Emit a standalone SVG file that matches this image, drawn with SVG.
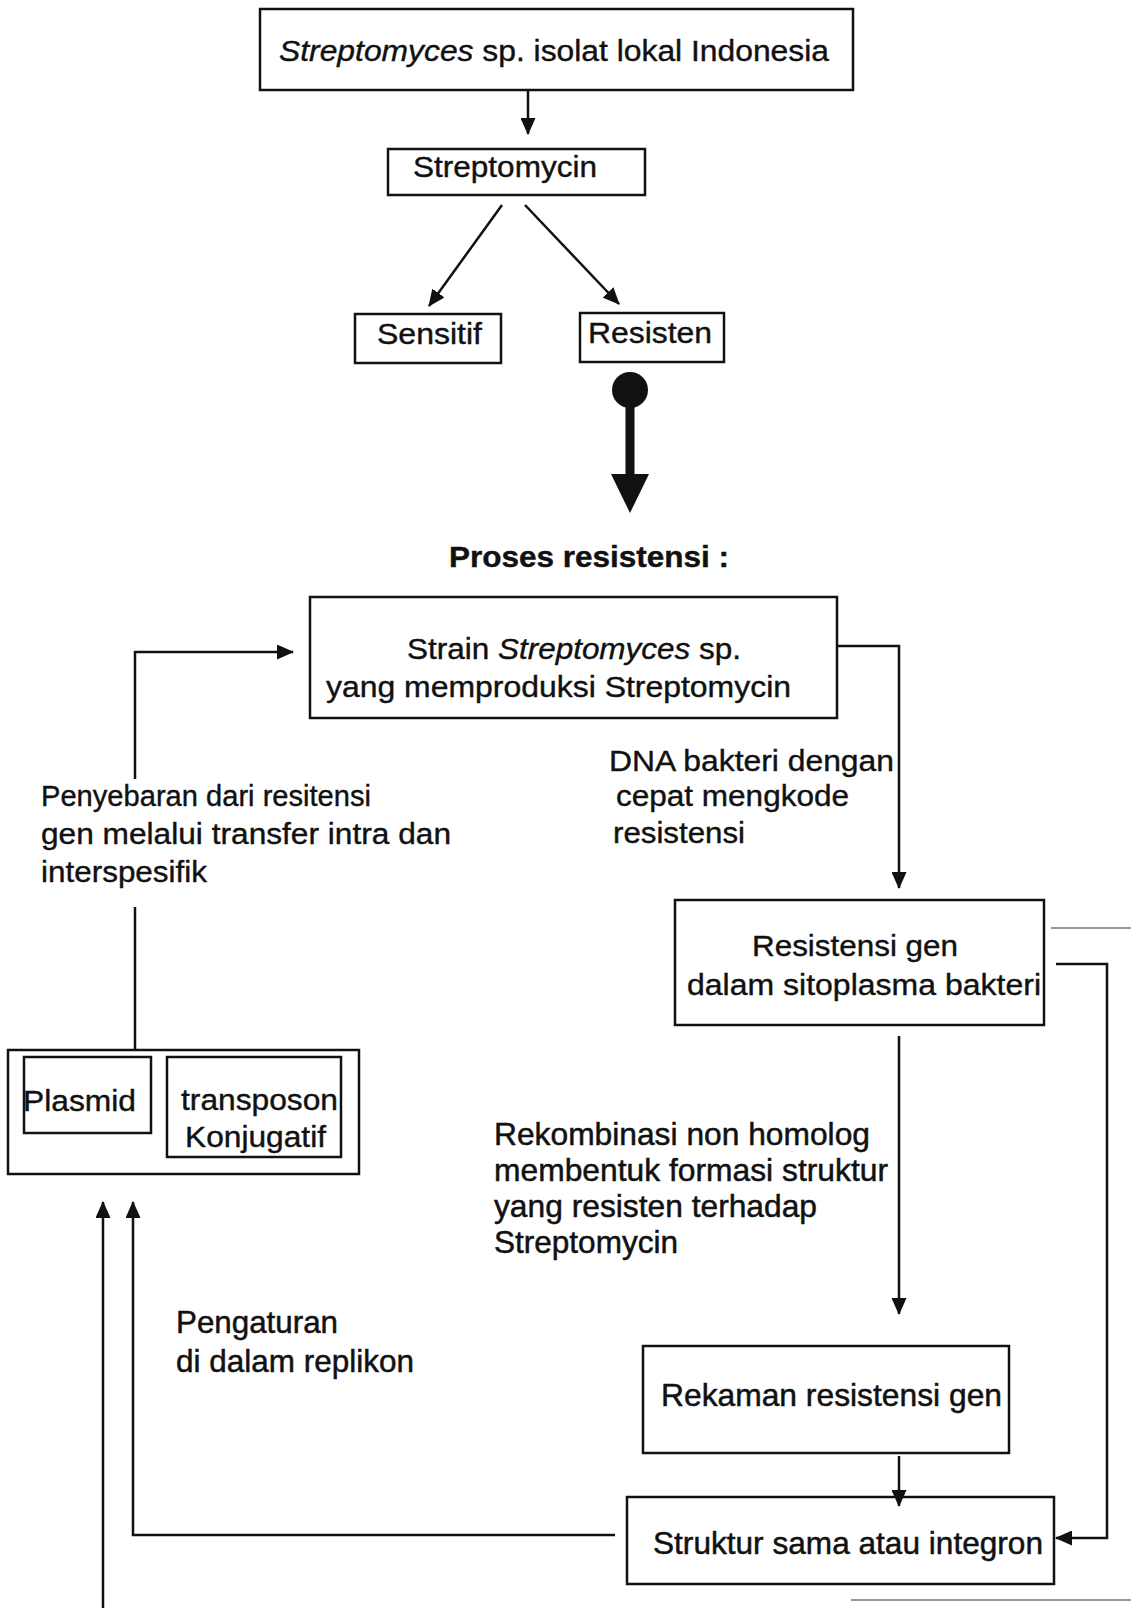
<svg xmlns="http://www.w3.org/2000/svg" width="1131" height="1608" viewBox="0 0 1131 1608">
<style>
  .box { fill: #fff; stroke: #111; stroke-width: 2.5; }
  .t { font-family: "Liberation Sans", Arial, sans-serif; font-size: 30px; fill: #111; stroke: #111; stroke-width: 0.4; }
  .n { font-family: "Liberation Sans", Arial, sans-serif; font-size: 32px; fill: #111; stroke: #111; stroke-width: 0.5; }
  .c { fill: none; stroke: #111; stroke-width: 2.5; }
  .faint { fill: none; stroke: #777; stroke-width: 1.5; }
</style>
<defs>
  <marker id="ah" markerUnits="userSpaceOnUse" markerWidth="17" markerHeight="15" refX="16" refY="7.5" orient="auto">
    <path d="M0,0 L17,7.5 L0,15 Z" fill="#111"/>
  </marker>
</defs>
<rect width="1131" height="1608" fill="#fff"/>

<g id="n-top">
  <rect class="box" x="260" y="9" width="593" height="81"/>
  <text class="t" x="279" y="61" textLength="550" lengthAdjust="spacingAndGlyphs"><tspan font-style="italic">Streptomyces</tspan> sp. isolat lokal Indonesia</text>
</g>
<g id="n-streptomycin">
  <rect class="box" x="388" y="149" width="257" height="46"/>
  <text class="t" x="413" y="177" textLength="184" lengthAdjust="spacingAndGlyphs">Streptomycin</text>
</g>
<g id="n-sensitif">
  <rect class="box" x="355" y="314" width="146" height="49"/>
  <text class="t" x="377" y="344" textLength="105" lengthAdjust="spacingAndGlyphs">Sensitif</text>
</g>
<g id="n-resisten">
  <rect class="box" x="580" y="313" width="144" height="49"/>
  <text class="t" x="588" y="343" textLength="124" lengthAdjust="spacingAndGlyphs">Resisten</text>
</g>
<g id="n-proses">
  <text class="t" x="449" y="567" font-weight="bold" font-size="28" textLength="280" lengthAdjust="spacingAndGlyphs">Proses resistensi :</text>
</g>
<g id="n-strain">
  <rect class="box" x="310" y="597" width="527" height="121"/>
  <text class="t" x="407" y="659" textLength="334" lengthAdjust="spacingAndGlyphs">Strain <tspan font-style="italic">Streptomyces</tspan> sp.</text>
  <text class="t" x="326" y="697" textLength="465" lengthAdjust="spacingAndGlyphs">yang memproduksi Streptomycin</text>
</g>
<g id="n-penyebaran">
  <text class="t" x="41" y="806" textLength="330" lengthAdjust="spacingAndGlyphs">Penyebaran dari resitensi</text>
  <text class="t" x="41" y="844" textLength="410" lengthAdjust="spacingAndGlyphs">gen melalui transfer intra dan</text>
  <text class="t" x="41" y="882" textLength="166" lengthAdjust="spacingAndGlyphs">interspesifik</text>
</g>
<g id="n-mobile">
  <rect class="box" x="8" y="1050" width="351" height="124"/>
  <rect class="box" x="24" y="1057" width="127" height="76"/>
  <text class="t" x="23" y="1111" textLength="113" lengthAdjust="spacingAndGlyphs">Plasmid</text>
  <rect class="box" x="167" y="1057" width="174" height="100"/>
  <text class="t" x="181" y="1110" textLength="157" lengthAdjust="spacingAndGlyphs">transposon</text>
  <text class="t" x="185" y="1147" textLength="141" lengthAdjust="spacingAndGlyphs">Konjugatif</text>
</g>
<g id="n-dna">
  <text class="t" x="609" y="771" textLength="285" lengthAdjust="spacingAndGlyphs">DNA bakteri dengan</text>
  <text class="t" x="616" y="806" textLength="233" lengthAdjust="spacingAndGlyphs">cepat mengkode</text>
  <text class="t" x="613" y="843" textLength="132" lengthAdjust="spacingAndGlyphs">resistensi</text>
</g>
<g id="n-resgen">
  <rect class="box" x="675" y="900" width="369" height="125"/>
  <text class="t" x="752" y="956" textLength="206" lengthAdjust="spacingAndGlyphs">Resistensi gen</text>
  <text class="t" x="687" y="995" textLength="354" lengthAdjust="spacingAndGlyphs">dalam sitoplasma bakteri</text>
</g>
<g id="n-rekombinasi">
  <text class="n" x="494" y="1145" textLength="376" lengthAdjust="spacingAndGlyphs">Rekombinasi non homolog</text>
  <text class="n" x="494" y="1181" textLength="394" lengthAdjust="spacingAndGlyphs">membentuk formasi struktur</text>
  <text class="n" x="494" y="1217" textLength="323" lengthAdjust="spacingAndGlyphs">yang resisten terhadap</text>
  <text class="n" x="494" y="1253" textLength="184" lengthAdjust="spacingAndGlyphs">Streptomycin</text>
</g>
<g id="n-pengaturan">
  <text class="n" x="176" y="1333" textLength="162" lengthAdjust="spacingAndGlyphs">Pengaturan</text>
  <text class="n" x="176" y="1372" textLength="238" lengthAdjust="spacingAndGlyphs">di dalam replikon</text>
</g>
<g id="n-rekaman">
  <rect class="box" x="643" y="1346" width="366" height="107"/>
  <text class="n" x="661" y="1406" textLength="341" lengthAdjust="spacingAndGlyphs">Rekaman resistensi gen</text>
</g>
<g id="n-struktur">
  <rect class="box" x="627" y="1497" width="427" height="87"/>
  <text class="n" x="653" y="1554" textLength="390" lengthAdjust="spacingAndGlyphs">Struktur sama atau integron</text>
</g>

<g id="connectors">
  <line class="c" x1="528" y1="90" x2="528" y2="134" marker-end="url(#ah)"/>
  <line class="c" x1="502" y1="205" x2="429" y2="306" marker-end="url(#ah)"/>
  <line class="c" x1="525" y1="205" x2="619" y2="304" marker-end="url(#ah)"/>
  <circle cx="630" cy="390" r="18" fill="#111"/>
  <line x1="630" y1="395" x2="630" y2="478" stroke="#111" stroke-width="9"/>
  <path d="M611,474 L649,474 L630,513 Z" fill="#111"/>
  <polyline class="c" points="837,646 899,646 899,888" marker-end="url(#ah)"/>
  <polyline class="c" points="135,779 135,652 293,652" marker-end="url(#ah)"/>
  <line class="c" x1="135" y1="907" x2="135" y2="1050"/>
  <line class="faint" x1="1051" y1="928" x2="1131" y2="928"/>
  <polyline class="c" points="1056,964 1107,964 1107,1538 1056,1538" marker-end="url(#ah)"/>
  <line class="c" x1="899" y1="1036" x2="899" y2="1314" marker-end="url(#ah)"/>
  <line class="c" x1="899" y1="1456" x2="899" y2="1506" marker-end="url(#ah)"/>
  <polyline class="c" points="615,1535 133,1535 133,1202" marker-end="url(#ah)"/>
  <line class="c" x1="103" y1="1608" x2="103" y2="1202" marker-end="url(#ah)"/>
  <line class="faint" x1="851" y1="1600" x2="1131" y2="1600"/>
</g>
</svg>
